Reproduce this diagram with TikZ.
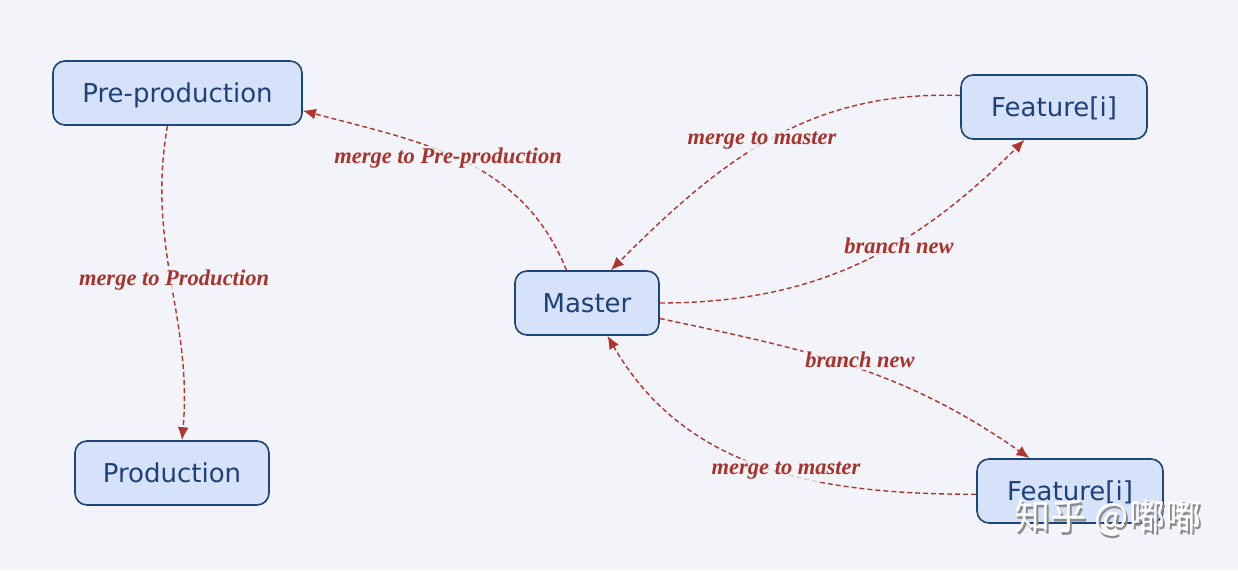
\documentclass[tikz,border=0pt]{standalone}
\usepackage{fontspec}
\setmainfont{DejaVu Sans}
\newfontfamily\lblfont{Liberation Serif}
\newfontfamily\cjkfont{Noto Sans CJK SC}
\usetikzlibrary{arrows.meta}

\definecolor{bgcol}{HTML}{F3F4F9}
\definecolor{boxfill}{HTML}{D6E2F9}
\definecolor{boxline}{HTML}{1E4577}
\definecolor{boxtext}{HTML}{1D4178}
\definecolor{flowred}{HTML}{B0352E}
\definecolor{lblred}{HTML}{A8322C}

\begin{document}
\begin{tikzpicture}[x=1pt,y=-1pt,>={Latex[length=13pt,width=11pt]},
  box/.style={draw=boxline,line width=1.6pt,fill=boxfill,rounded corners=12pt,
    minimum height=64pt,inner sep=0pt,text height=24.7pt,text depth=5.2pt,
    text=boxtext,font=\fontsize{26}{30}\selectfont},
  flow/.style={->,draw=flowred,line width=1.4pt,dash pattern=on 5pt off 3pt},
  lbl/.style={fill=bgcol,fill opacity=0.8,text opacity=1,text=lblred,inner sep=2pt,
    font=\lblfont\bfseries\itshape\fontsize{22.5}{26}\selectfont}]

\fill[bgcol] (0,0) rectangle (1238,570);
\useasboundingbox (0,0) rectangle (1238,570);

% nodes
\node[box,minimum width=249pt] (pre) at (177.5,93) {Pre-production};
\node[box,minimum width=194pt] (prod) at (172,473) {Production};
\node[box,minimum width=144pt] (master) at (587,303) {Master};
\node[box,minimum width=186pt] (feat1) at (1054,107) {Feature[i]};
\node[box,minimum width=186pt] (feat2) at (1070,491) {Feature[i]};

% connectors
\draw[flow] (master.122) to[out=112,in=-15] (pre.-8);
\draw[flow] (pre.-107) to[out=-100,in=85] (prod.73);
\draw[flow] (feat1.173) to[out=178,in=45] (master.54);
\draw[flow] (master.east) to[out=0,in=-135] (feat1.-132);
\draw[flow] (master.-12) to[out=-12,in=145] (feat2.141);
\draw[flow] (feat2.-178) to[out=180,in=-60] (master.-58);

% labels
\node[lbl] (l1) at (448,158) {merge to Pre-production};
\node[lbl] (l2) at (174,280) {merge to Production};
\node[lbl] (l3) at (762,141) {merge to master};
\node[lbl] (l4) at (899,246) {branch new};
\node[lbl] (l5) at (860,360) {branch new};
\node[lbl] (l6) at (786,471) {merge to master};

% watermark
\node[text=black!45,font=\cjkfont\fontsize{36}{40}\selectfont] (wms) at (1110,520) {知乎 @嘟嘟};
\node[text=white,font=\cjkfont\fontsize{36}{40}\selectfont] (wm) at (1108,517) {知乎 @嘟嘟};

\end{tikzpicture}
\end{document}
